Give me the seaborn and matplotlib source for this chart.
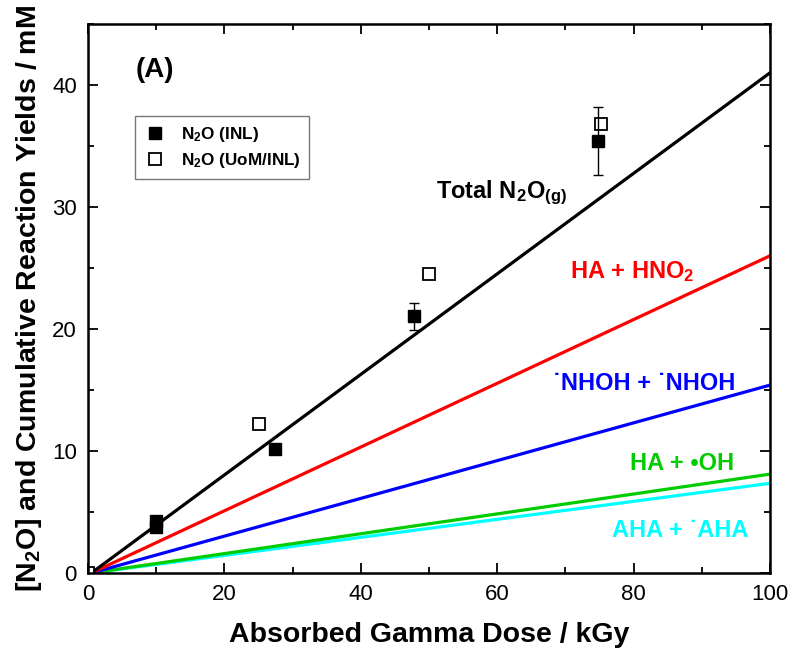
import numpy as np
import pandas as pd
import matplotlib
matplotlib.use("Agg")
import matplotlib.pyplot as plt
import seaborn as sns
from matplotlib.ticker import MultipleLocator

sns.set_theme(style="ticks")
plt.rcParams["font.family"] = ["Liberation Sans", "DejaVu Sans"]
plt.rcParams["mathtext.fontset"] = "custom"
plt.rcParams["mathtext.rm"] = "Liberation Sans"
plt.rcParams["mathtext.bf"] = "Liberation Sans:bold"
plt.rcParams["mathtext.it"] = "Liberation Sans:italic"
plt.rcParams["text.color"] = "black"
plt.rcParams["axes.labelcolor"] = "black"
plt.rcParams["xtick.color"] = "black"
plt.rcParams["ytick.color"] = "black"

# Model curves: cumulative yields vs. absorbed dose
dose_model = [0.5, 100.0]
total_n2o = [0.0, 41.0]
ha_hno2 = [0.0, 26.0]
nhoh_nhoh = [0.0, 15.4]
ha_oh = [0.0, 8.1]
aha_aha = [0.0, 7.35]

# Measured N2O (INL), with uncertainties
dose_inl = [10.0, 10.0, 27.4, 47.8, 74.8]
n2o_inl = [3.8, 4.3, 10.2, 21.05, 35.4]
err_inl = [0.0, 0.0, 0.0, 1.1, 2.8]

# Measured N2O (UoM/INL)
dose_uom = [0.0, 25.1, 50.0, 75.2]
n2o_uom = [0.0, 12.2, 24.5, 36.8]

series = {
    "Total": total_n2o,
    "HA + HNO2": ha_hno2,
    "NHOH + NHOH": nhoh_nhoh,
    "HA + OH": ha_oh,
    "AHA + AHA": aha_aha,
}
colors = {
    "Total": "#000000",
    "HA + HNO2": "#ff0000",
    "NHOH + NHOH": "#0000ff",
    "HA + OH": "#00cc00",
    "AHA + AHA": "#00ffff",
}
rows = []
for name, vals in series.items():
    for d, v in zip(dose_model, vals):
        rows.append({"dose": d, "yield": v, "series": name})
df = pd.DataFrame(rows)

fig = plt.figure(figsize=(7.94, 6.54), dpi=100)
ax = fig.add_axes([0.1108, 0.1239, 0.8590, 0.8394])

hue_order = ["AHA + AHA", "HA + OH", "NHOH + NHOH", "HA + HNO2", "Total"]
sns.lineplot(data=df, x="dose", y="yield", hue="series", hue_order=hue_order,
             palette=colors, linewidth=2.3, legend=False, ax=ax)

# data points
eb = ax.errorbar(dose_inl, n2o_inl, yerr=err_inl, fmt="s", color="black",
                 markersize=8.5, ecolor="black", elinewidth=1.0, capsize=3.8,
                 capthick=1.0, zorder=5)
uom, = ax.plot(dose_uom, n2o_uom, "s", markerfacecolor="white",
               markeredgecolor="black", markeredgewidth=1.3, markersize=8.0,
               linestyle="none", zorder=2.2)

ax.set_xlim(0, 100)
ax.set_ylim(0, 45)
ax.xaxis.set_major_locator(MultipleLocator(20))
ax.xaxis.set_minor_locator(MultipleLocator(10))
ax.yaxis.set_major_locator(MultipleLocator(10))
ax.yaxis.set_minor_locator(MultipleLocator(5))
ax.tick_params(which="both", direction="in", top=True, right=True,
               colors="black", labelsize=16)
ax.tick_params(which="major", length=7, width=1.3, pad=8)
ax.tick_params(which="minor", length=4, width=1.3)
for sp in ax.spines.values():
    sp.set_linewidth(1.8)
    sp.set_color("black")

ax.set_xlabel("Absorbed Gamma Dose / kGy", fontsize=20.5, fontweight="bold",
              labelpad=12)
ax.set_ylabel(r"[N$_\mathbf{2}$O] and Cumulative Reaction Yields / mM",
              fontsize=20.5, fontweight="bold", labelpad=6)

leg = ax.legend([eb.lines[0], uom],
                [r"N$_\mathbf{2}$O (INL)", r"N$_\mathbf{2}$O (UoM/INL)"],
                loc="upper left", bbox_to_anchor=(0.069, 0.832),
                prop={"weight": "bold", "size": 12.3}, frameon=True,
                fancybox=False, edgecolor="#555555", handletextpad=0.9,
                borderpad=0.5, labelspacing=0.45, handlelength=1.3,
                borderaxespad=0)
leg.get_frame().set_linewidth(1.0)

ax.text(7.0, 41.2, "(A)", fontsize=20, fontweight="bold", ha="left", va="center")
ax.text(51.0, 31.2, r"Total N$_\mathbf{2}$O$_\mathbf{(g)}$", fontsize=17,
        fontweight="bold", ha="left", va="center", color="black")
ax.text(70.7, 24.7, r"HA + HNO$_\mathbf{2}$", fontsize=17, fontweight="bold",
        ha="left", va="center", color="#ff0000")
ax.text(68.2, 15.5, "\u02d9NHOH + \u02d9NHOH", fontsize=17,
        fontweight="bold", ha="left", va="center", color="#0000ff")
ax.text(79.5, 9.0, "HA + •OH", fontsize=17, fontweight="bold",
        ha="left", va="center", color="#00cc00")
ax.text(76.8, 3.5, "AHA + \u02d9AHA", fontsize=17, fontweight="bold",
        ha="left", va="center", color="#00ffff")

fig.savefig("out.png", dpi=100)
